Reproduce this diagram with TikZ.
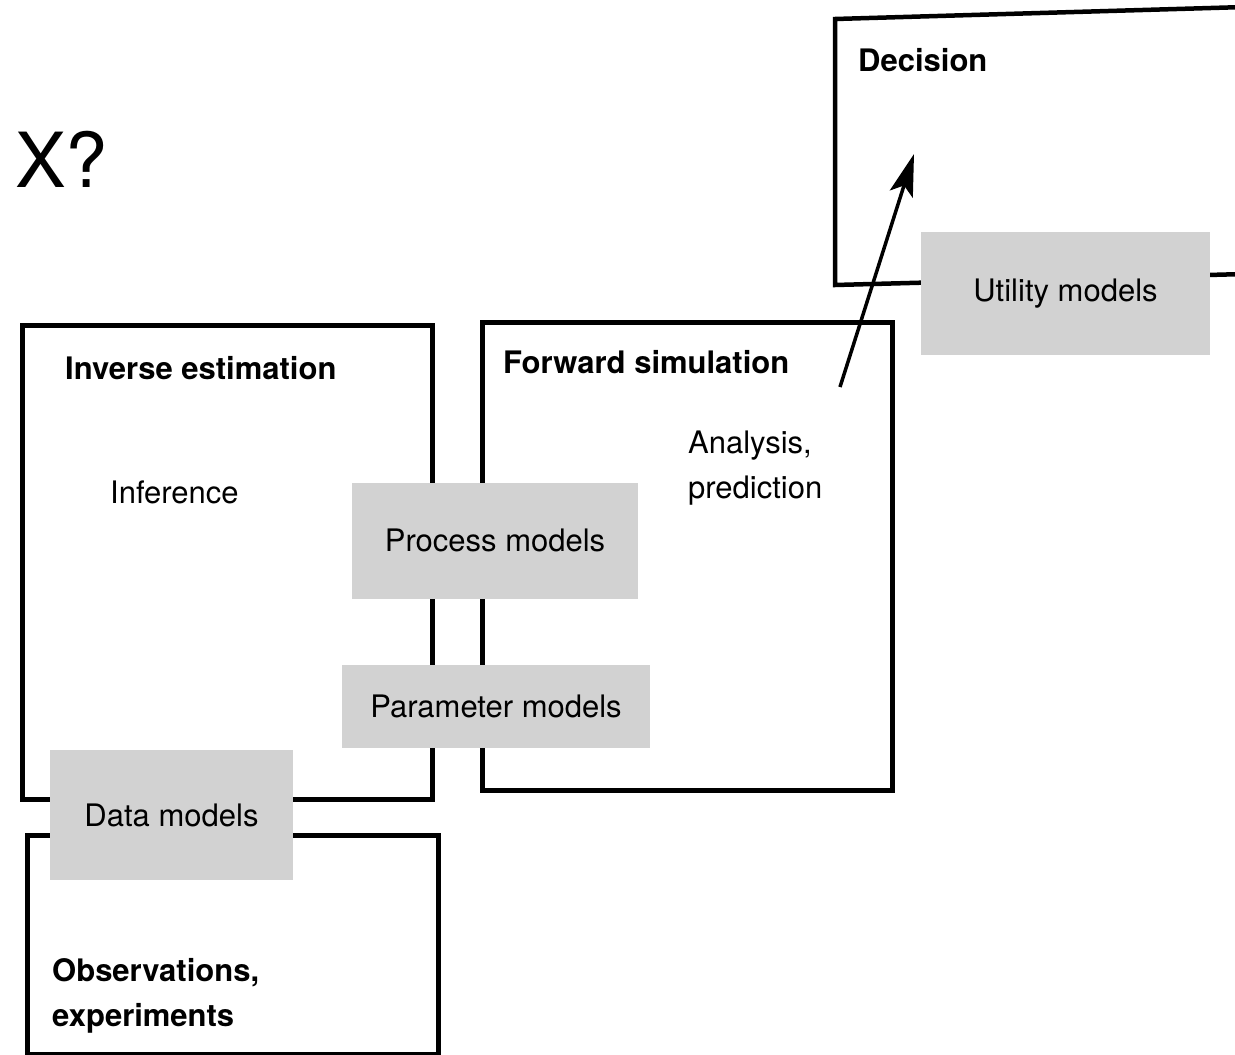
\documentclass[tikz,border=0pt]{standalone}
\usepackage{fontspec}
\setmainfont{TeX Gyre Heros}
\usetikzlibrary{arrows.meta}
\tikzset{
  box/.style={draw=black, line width=4.5pt, inner sep=0pt, anchor=north west},
  gbox/.style={fill=gray!35, inner sep=0pt, anchor=center, font=\fontsize{31}{36}\selectfont},
  lbl/.style={inner sep=0pt, anchor=base west, align=left, font=\fontsize{31}{45}\selectfont},
  blbl/.style={lbl, font=\fontsize{31}{45}\selectfont\bfseries},
  arr/.style={line width=3.5pt, -{Stealth[length=42pt, width=24pt, inset=9pt]}}
}
\begin{document}
\begin{tikzpicture}[x=1pt,y=-1pt]
\useasboundingbox (0,0) rectangle (1235,1055);
\clip (0,0) rectangle (1235,1055);
\fill[white] (0,0) rectangle (1235,1055);

% question mark label
\node[inner sep=0pt, anchor=base west, font=\fontsize{76}{80}\selectfont] (xq) at (15,187) {X?};

% open boxes
\draw[line width=4.5pt] (1245,7) -- (835,19) -- (835,285) -- (1245,274);
\node[box, minimum width=410pt, minimum height=474pt] (inv) at (20,323) {};
\node[box, minimum width=410pt, minimum height=468pt] (fwd) at (480,320) {};
\node[box, minimum width=411pt, minimum height=219pt] (obs) at (25,833) {};

% box titles and texts (multi-line nodes: base = last line)
\node[blbl] (dect) at (858,71) {Decision};
\node[blbl] (invt) at (65,379) {Inverse estimation};
\node[lbl]  (inft) at (110,503) {Inference};
\node[blbl] (fwdt) at (503,373) {Forward simulation};
\node[lbl]  (anat) at (688,498) {Analysis,\\prediction};
\node[blbl] (obst) at (52,1026) {Observations,\\experiments};

% grey model boxes
\node[gbox, minimum width=289pt, minimum height=123pt] (util) at (1065.5,293.5) {Utility models};
\node[gbox, minimum width=286pt, minimum height=116pt] (proc) at (495,540.5) {Process models};
\node[gbox, minimum width=308pt, minimum height=83pt] (para) at (496,706.5) {Parameter models};
\node[gbox, minimum width=243pt, minimum height=130pt] (data) at (171.5,815) {Data models};

% arrow from forward simulation to decision
\coordinate (astart) at (840,387);
\coordinate (aend) at (914,154);
\draw[arr] (astart) -- (aend);
\end{tikzpicture}
\end{document}
